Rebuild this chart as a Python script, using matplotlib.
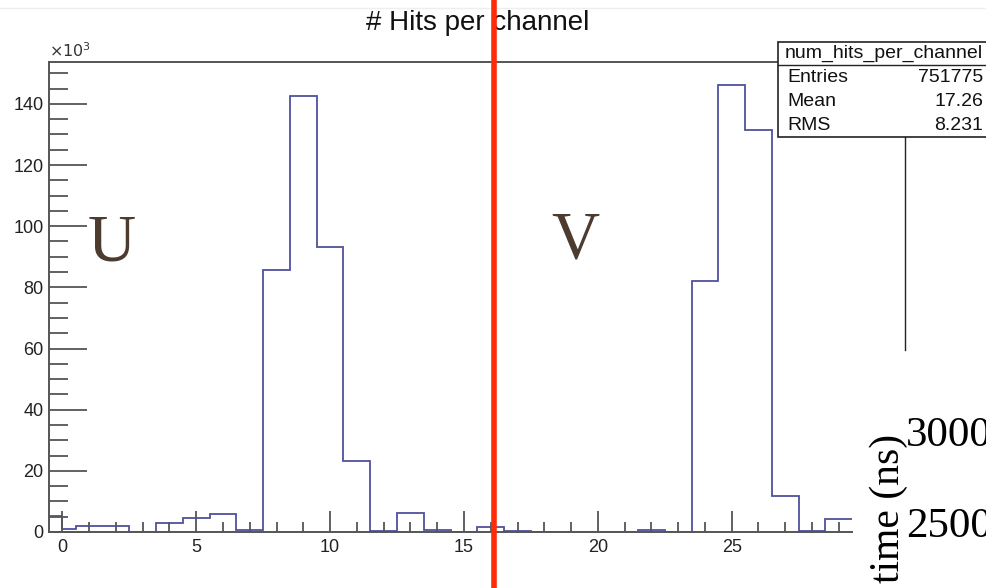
import numpy as np
import matplotlib.pyplot as plt
from matplotlib.patches import Rectangle
from matplotlib.lines import Line2D
from matplotlib.ticker import MultipleLocator

plt.rcParams['font.family'] = ['Liberation Sans', 'DejaVu Sans']

# Datos del histograma (en miles de hits), bordes de los bins
bin_edges = [-0.5, 0, 0.5, 1.5, 2.5, 3.5, 4.5, 5.5, 6.5, 7.5, 8.5, 9.5, 10.5,
             11.5, 12.5, 13.5, 14.5, 15.5, 16.5, 17.5, 18.5, 19.5, 20.5, 21.5,
             22.5, 23.5, 24.5, 25.5, 26.5, 27.5, 28.5, 29.5]
hits_k = [5.2, 1.0, 2.0, 2.0, 0.0, 3.0, 4.6, 6.0, 0.6, 85.7, 142.6, 93.2, 23.2,
          0.3, 6.3, 0.6, 0.0, 1.5, 0.4, 0.0, 0.0, 0.0, 0.0, 0.6, 0.0, 82.1,
          146.2, 131.5, 11.9, 0.3, 4.2]

stats_labels = ['Entries', 'Mean', 'RMS']
stats_values = ['751775', '17.26', '8.231']
x_ticks = [0, 5, 10, 15, 20, 25]
y_ticks = [0, 20, 40, 60, 80, 100, 120, 140]

W, H = 986, 588
fig = plt.figure(figsize=(W / 100, H / 100), dpi=100)


def fx(x):
    return x / W


def fy(y):
    return 1 - y / H


# Ejes: izquierda 49px, arriba 62px, abajo 532px
ax = fig.add_axes([fx(49), fy(532), 1 - fx(49), fy(62) - fy(532)])
ax.stairs(hits_k, bin_edges, baseline=None, color='#50509e', lw=1.3)
ax.set_xlim(-0.5, 34.5)
ax.set_ylim(0, 153.7)

ax.set_xticks(x_ticks)
ax.set_yticks(y_ticks)
ax.xaxis.set_minor_locator(MultipleLocator(1))
ax.yaxis.set_minor_locator(MultipleLocator(5))
ax.tick_params(axis='both', which='both', direction='in', color='#555555',
               width=1.3, labelsize=13, labelcolor='#222222')
ax.tick_params(axis='x', which='major', length=15, pad=5)
ax.tick_params(axis='x', which='minor', length=7.5)
ax.tick_params(axis='y', which='major', length=27, pad=4)
ax.tick_params(axis='y', which='minor', length=14)
ax.spines['right'].set_visible(False)
for s in ['left', 'top', 'bottom']:
    ax.spines[s].set_color('#555555')
    ax.spines[s].set_linewidth(1.4)

ax.text(0, 1.005, r'$\times10^{3}$', transform=ax.transAxes, ha='left',
        va='bottom', fontsize=11.5, color='#333333')

# Titulo
fig.text(fx(478), fy(23), '# Hits per channel', ha='center', va='center',
         fontsize=20, color='#111111')
fig.add_artist(Line2D([0, 1], [fy(8), fy(8)], color='#eeeeee', lw=1))

# Letras U y V
fig.text(fx(112), fy(244), 'U', ha='center', va='center', fontsize=48,
         family='Liberation Serif', color='#4d3b30')
fig.text(fx(575), fy(241), 'V', ha='center', va='center', fontsize=48,
         family='Liberation Serif', color='#4d3b30')

# Caja de estadisticas
fig.add_artist(Rectangle((fx(778), fy(137)), fx(220), fy(42) - fy(137),
                         transform=fig.transFigure, facecolor='white',
                         edgecolor='#222222', lw=1.2))
fig.add_artist(Line2D([fx(778), 1], [fy(65), fy(65)], color='#222222', lw=1))
fig.text(fx(983), fy(53), 'num_hits_per_channel', ha='right', va='center',
         fontsize=14, color='#111111')
for i, (lab, val) in enumerate(zip(stats_labels, stats_values)):
    yy = 77 + 24 * i
    fig.text(fx(787), fy(yy), lab, ha='left', va='center', fontsize=14,
             color='#111111')
    fig.text(fx(983), fy(yy), val, ha='right', va='center', fontsize=14,
             color='#111111')
fig.add_artist(Line2D([fx(905), fx(905)], [fy(137), fy(350)],
                      color='#222222', lw=1))

# Recorte de otra figura (abajo a la derecha)
fig.add_artist(Rectangle((fx(853), 0), 1, fy(400), transform=fig.transFigure,
                         facecolor='white', edgecolor='none', zorder=5))
fig.text(fx(889), fy(434), 'time (ns)', rotation=90, ha='center',
         va='top', fontsize=30, family='Liberation Serif', color='black',
         zorder=6)
fig.text(fx(906), fy(436), '3000', ha='left', va='center', fontsize=31,
         family='Liberation Serif', color='black', zorder=6)
fig.text(fx(906), fy(527), '2500', ha='left', va='center', fontsize=31,
         family='Liberation Serif', color='black', zorder=6)

# Linea roja vertical
fig.add_artist(Line2D([fx(494), fx(494)], [0, 1], color='#ff2a0a', lw=4,
                      zorder=7))

fig.savefig('out.png', dpi=100)
